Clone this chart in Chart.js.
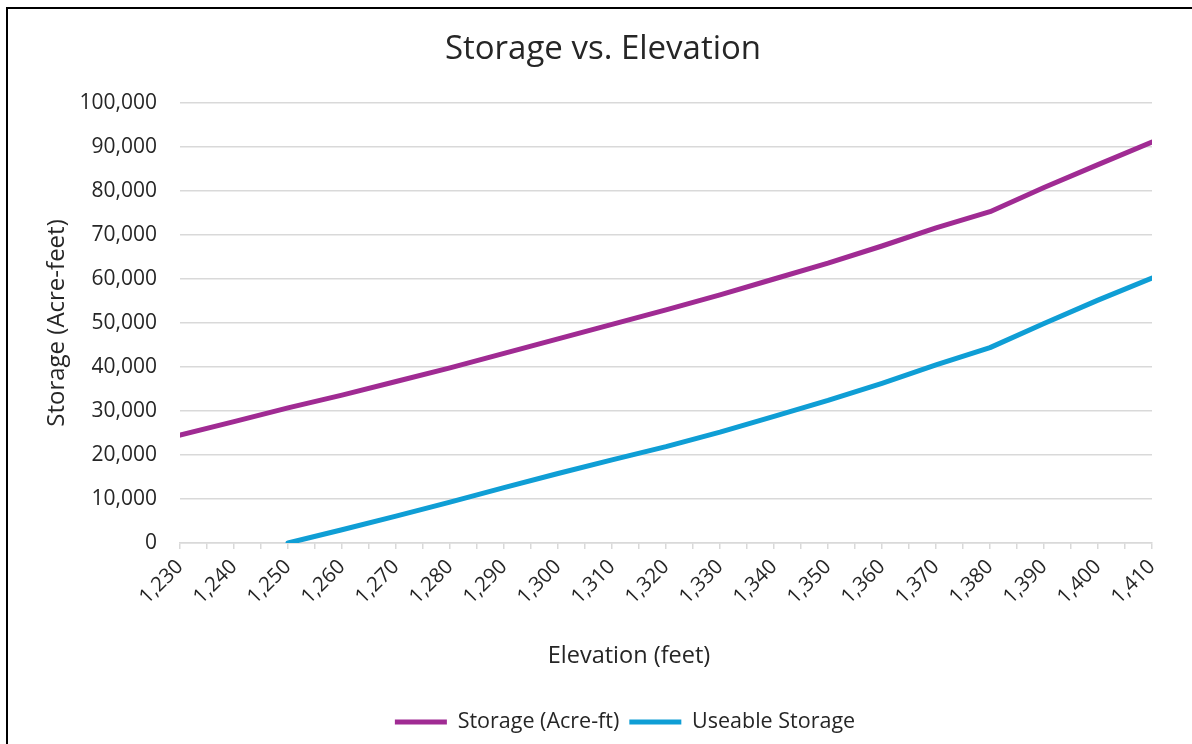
<!DOCTYPE html>
<html>
<head>
<meta charset="utf-8">
<title>Storage vs. Elevation</title>
<script src="https://cdn.jsdelivr.net/npm/chart.js@4.4.1/dist/chart.umd.min.js"></script>
<style>
  html, body { margin: 0; padding: 0; background: #fff; }
  #wrap { position: relative; width: 1192px; height: 744px; overflow: hidden; }
  #c { position: absolute; left: 0; top: 0; }
  #frame { position: absolute; left: 6px; top: 7px; width: 1300px; height: 800px;
           border: 2px solid #000; box-sizing: border-box; pointer-events: none; }
</style>
</head>
<body>
<div id="wrap">
  <canvas id="c" width="1192" height="744"></canvas>
  <div id="frame"></div>
</div>
<script>
// Elevation (feet) and storage volumes (acre-feet)
const elevation = [1230, 1240, 1250, 1260, 1270, 1280, 1290, 1300, 1310, 1320,
                   1330, 1340, 1350, 1360, 1370, 1380, 1390, 1400, 1410];
const storage = [24500, 27600, 30700, 33600, 36700, 39800, 43100, 46400, 49700, 53000,
                 56400, 60000, 63600, 67500, 71600, 75300, 80800, 86000, 91100];
const useableElevation = [1250, 1260, 1270, 1280, 1290, 1300, 1310, 1320, 1330, 1340,
                          1350, 1360, 1370, 1380, 1390, 1400, 1410];
const useableStorage = [0, 3000, 6100, 9300, 12600, 15800, 18900, 21900, 25200, 28800,
                        32400, 36300, 40500, 44400, 49900, 55200, 60200];

const seriesNames = ['Storage (Acre-ft)', 'Useable Storage'];
const chartTitle = 'Storage vs. Elevation';
const xTitle = 'Elevation (feet)';
const yTitle = 'Storage (Acre-feet)';

const FONT = '"Open Sans", "Noto Sans", sans-serif';
const TEXT = '#262626';
const GRID = '#d9d9d9';

const toPoints = (xs, ys) => xs.map((x, i) => ({ x: x, y: ys[i] }));
const fmt = v => Number(v).toLocaleString('en-US');

// Title and legend are centred on the whole frame rather than the plot area;
// the x-axis title sits a little left of the plot centre.
const framePlacement = {
  id: 'framePlacement',
  afterLayout(chart) {
    const t = chart.titleBlock, l = chart.legend;
    if (t) { t.left += 27; t.right += 27; }
    if (l) { l.left += 49; l.right += 49; }
  },
  afterDraw(chart) {
    const ctx = chart.ctx;
    ctx.save();
    ctx.fillStyle = TEXT;
    ctx.font = '23.5px ' + FONT;
    ctx.textAlign = 'center';
    ctx.textBaseline = 'middle';
    ctx.fillText(xTitle, 629, 656);
    ctx.restore();
  }
};

new Chart(document.getElementById('c'), {
  type: 'line',
  data: {
    datasets: [
      {
        label: seriesNames[0],
        data: toPoints(elevation, storage),
        borderColor: '#A02B93',
        backgroundColor: '#A02B93',
        borderWidth: 5,
        borderCapStyle: 'round',
        borderJoinStyle: 'round',
        pointRadius: 0,
        tension: 0
      },
      {
        label: seriesNames[1],
        data: toPoints(useableElevation, useableStorage),
        borderColor: '#0F9ED5',
        backgroundColor: '#0F9ED5',
        borderWidth: 5,
        borderCapStyle: 'round',
        borderJoinStyle: 'round',
        pointRadius: 0,
        tension: 0
      }
    ]
  },
  plugins: [framePlacement],
  options: {
    responsive: false,
    animation: false,
    layout: { padding: { left: 0, right: 40, top: 0, bottom: 1.25 } },
    plugins: {
      title: {
        display: true,
        text: chartTitle,
        color: TEXT,
        font: { family: FONT, size: 33, weight: 'normal' },
        padding: { top: 30.2, bottom: 33.2 }
      },
      legend: {
        position: 'bottom',
        labels: {
          color: TEXT,
          font: { family: FONT, size: 21.5 },
          usePointStyle: true,
          pointStyle: 'line',
          pointStyleWidth: 52,
          padding: 10
        }
      },
      tooltip: { enabled: false }
    },
    scales: {
      x: {
        type: 'linear',
        min: 1230,
        max: 1410,
        border: { display: true, color: GRID, width: 1.5 },
        grid: { drawOnChartArea: false, drawTicks: true, tickLength: 6, color: GRID, lineWidth: 1.5 },
        ticks: {
          stepSize: 5,
          autoSkip: false,
          minRotation: 45,
          maxRotation: 45,
          color: TEXT,
          font: { family: FONT, size: 20.5 },
          padding: 6,
          callback: v => (v % 10 === 0 ? fmt(v) : '')
        },
        title: { display: false, text: xTitle },
        afterFit: s => { s.height = 158.25; }
      },
      y: {
        min: 0,
        max: 100000,
        border: { display: false },
        grid: { color: GRID, lineWidth: 1.5, drawTicks: false },
        ticks: {
          stepSize: 10000,
          color: TEXT,
          font: { family: FONT, size: 21 },
          padding: 23,
          callback: v => fmt(v)
        },
        title: {
          display: true,
          text: yTitle,
          color: TEXT,
          font: { family: FONT, size: 24 },
          padding: { top: 43, bottom: 0 }
        },
        afterFit: s => { s.width = 180; }
      }
    }
  }
});
</script>
</body>
</html>
